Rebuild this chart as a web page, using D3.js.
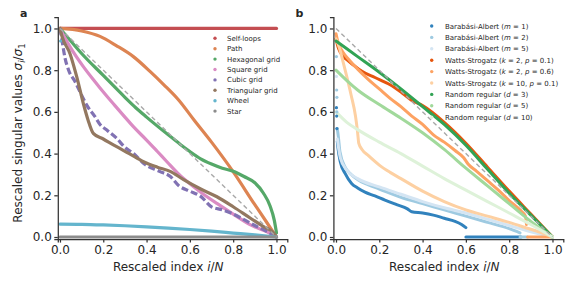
<!DOCTYPE html>
<html>
<head>
<meta charset="utf-8">
<script src="https://cdnjs.cloudflare.com/ajax/libs/d3/7.8.5/d3.min.js"></script>
<style>
  body { margin: 0; background: #fff; }
  svg text { font-family: "DejaVu Sans", sans-serif; fill: #262626; }
</style>
</head>
<body>
<div id="chart"></div>
<script>
// ---- data ----
const xTicks = [0, 0.2, 0.4, 0.6, 0.8, 1.0];
const yTicks = [0, 0.2, 0.4, 0.6, 0.8, 1.0];
const diagonal = [[0, 1], [1, 0]];

// panel a
const namesA = ['Self-loops', 'Path', 'Hexagonal grid', 'Square grid', 'Cubic grid', 'Triangular grid', 'Wheel', 'Star'];
const selfLoops = [[0, 1], [1, 1]];
const path = [[0, 1], [0.1, 0.988], [0.185, 0.962], [0.26, 0.918], [0.339, 0.865], [0.417, 0.793], [0.48, 0.73],
  [0.548, 0.657], [0.62, 0.56], [0.7, 0.455], [0.802, 0.31], [0.9, 0.155], [0.95, 0.078], [1, 0]];
const hexGrid = [[0, 1], [0.05, 0.94], [0.1, 0.88], [0.2, 0.775], [0.3, 0.67], [0.35, 0.62], [0.4, 0.575],
  [0.5, 0.49], [0.556, 0.444], [0.6, 0.41], [0.65, 0.375], [0.7, 0.35], [0.75, 0.33], [0.8, 0.315],
  [0.85, 0.29], [0.9, 0.26], [0.94, 0.21], [0.97, 0.15], [0.99, 0.08], [1, 0.02]];
const squareGrid = [[0, 1], [0.02, 0.96], [0.046, 0.913], [0.108, 0.817], [0.15, 0.76], [0.185, 0.715],
  [0.25, 0.635], [0.3, 0.575], [0.339, 0.529], [0.4, 0.465], [0.45, 0.41], [0.494, 0.361], [0.55, 0.30],
  [0.6, 0.255], [0.65, 0.215], [0.725, 0.161], [0.8, 0.11], [0.88, 0.058], [0.97, 0.018], [1, 0]];
const cubicGrid = [[0, 1], [0.01, 0.94], [0.023, 0.86], [0.04, 0.80], [0.07, 0.745], [0.1, 0.68],
  [0.125, 0.63], [0.16, 0.58], [0.185, 0.54], [0.22, 0.51], [0.26, 0.475], [0.3, 0.43], [0.34, 0.40],
  [0.39, 0.35], [0.46, 0.315], [0.51, 0.29], [0.55, 0.245], [0.6, 0.22], [0.65, 0.195], [0.7, 0.145],
  [0.75, 0.13], [0.8, 0.11], [0.85, 0.083], [0.9, 0.055], [0.95, 0.03], [1, 0]];
const triGrid = [[0, 1], [0.01, 0.96], [0.046, 0.88], [0.077, 0.77], [0.108, 0.64], [0.13, 0.56],
  [0.154, 0.497], [0.2, 0.47], [0.262, 0.433], [0.32, 0.40], [0.386, 0.361], [0.45, 0.335], [0.509, 0.315],
  [0.571, 0.275], [0.65, 0.23], [0.725, 0.193], [0.8, 0.145], [0.88, 0.09], [0.94, 0.05], [0.988, 0.018], [1, 0]];
const wheel = [[0, 0.062], [0.1, 0.061], [0.2, 0.058], [0.3, 0.054], [0.4, 0.049], [0.5, 0.043],
  [0.6, 0.036], [0.7, 0.028], [0.8, 0.019], [0.9, 0.01], [1, 0]];
const star = [[0, 0], [1, 0]];
const seriesA = [selfLoops, path, hexGrid, squareGrid, cubicGrid, triGrid, wheel, star];

// panel b
const namesB = ['Barabási-Albert (m = 1)', 'Barabási-Albert (m = 2)', 'Barabási-Albert (m = 5)',
  'Watts-Strogatz (k = 2, p = 0.1)', 'Watts-Strogatz (k = 2, p = 0.6)', 'Watts-Strogatz (k = 10, p = 0.1)',
  'Random regular (d = 3)', 'Random regular (d = 5)', 'Random regular (d = 10)'];
const ba1 = [[0.006, 0.46], [0.01, 0.42], [0.02, 0.36], [0.042, 0.305], [0.072, 0.257], [0.1, 0.235],
  [0.134, 0.215], [0.18, 0.197], [0.226, 0.177], [0.28, 0.155], [0.33, 0.135], [0.35, 0.121], [0.4, 0.115],
  [0.45, 0.105], [0.5, 0.09], [0.55, 0.075], [0.58, 0.06], [0.6, 0.045], null, [0.6, 0], [0.855, 0]];
const ba2 = [[0.006, 0.52], [0.011, 0.48], [0.018, 0.41], [0.042, 0.335], [0.07, 0.3], [0.103, 0.273],
  [0.15, 0.25], [0.2, 0.23], [0.3, 0.19], [0.4, 0.16], [0.5, 0.13], [0.6, 0.1], [0.7, 0.07], [0.8, 0.04],
  [0.85, 0.02], null, [0.85, 0], [0.885, 0]];
const ba5 = [[0.006, 0.47], [0.01, 0.44], [0.02, 0.38], [0.05, 0.32], [0.1, 0.28], [0.2, 0.24], [0.3, 0.205],
  [0.4, 0.17], [0.5, 0.14], [0.6, 0.115], [0.7, 0.085], [0.8, 0.055], [0.9, 0.025], [1, 0]];
const ws1 = [[0, 0.95], [0.01, 0.91], [0.02, 0.885], [0.05, 0.85], [0.08, 0.825], [0.12, 0.795],
  [0.18, 0.765], [0.25, 0.73], [0.3, 0.695], [0.35, 0.655], [0.4, 0.63], [0.5, 0.55], [0.6, 0.45],
  [0.7, 0.335], [0.8, 0.22], [0.9, 0.11], [1, 0]];
const ws6 = [[0, 0.975], [0.01, 0.93], [0.03, 0.89], [0.06, 0.85], [0.1, 0.805], [0.15, 0.755], [0.2, 0.71],
  [0.25, 0.665], [0.3, 0.625], [0.35, 0.58], [0.4, 0.54], [0.45, 0.49], [0.5, 0.455], [0.55, 0.415],
  [0.59, 0.38], [0.61, 0.35], [0.65, 0.315], [0.7, 0.27], [0.75, 0.225], [0.8, 0.175], [0.85, 0.13],
  [0.875, 0.1], [0.88, 0.06], null, [0.885, 0], [0.99, 0]];
const ws10 = [[0, 0.95], [0.01, 0.925], [0.04, 0.81], [0.07, 0.68], [0.09, 0.58], [0.1, 0.5], [0.105, 0.45],
  [0.12, 0.42], [0.15, 0.39], [0.2, 0.345], [0.25, 0.31], [0.3, 0.28], [0.4, 0.22], [0.5, 0.17], [0.6, 0.13],
  [0.7, 0.1], [0.8, 0.07], [0.87, 0.047], [0.95, 0.02], [1, 0]];
const rr3 = [[0, 0.94], [0.1, 0.865], [0.2, 0.79], [0.3, 0.71], [0.4, 0.625], [0.5, 0.54], [0.6, 0.44],
  [0.7, 0.325], [0.8, 0.21], [0.9, 0.105], [1, 0]];
const rr5 = [[0, 0.8], [0.05, 0.75], [0.1, 0.705], [0.2, 0.635], [0.3, 0.57], [0.4, 0.5], [0.5, 0.42],
  [0.6, 0.33], [0.7, 0.245], [0.8, 0.16], [0.9, 0.075], [1, 0]];
const rr10 = [[0, 0.6], [0.05, 0.55], [0.1, 0.515], [0.2, 0.455], [0.3, 0.4], [0.4, 0.34], [0.5, 0.28],
  [0.6, 0.225], [0.7, 0.17], [0.8, 0.115], [0.9, 0.06], [1, 0]];
const seriesB = [ba1, ba2, ba5, ws1, ws6, ws10, rr3, rr5, rr10];
// a few isolated leading values near i/N = 0
const leadA = [[6, [[0.003, 0.94]]]];
const leadB = [[0, [[0.002, 0.62], [0.003, 0.58], [0.004, 0.52]]],
  [1, [[0.002, 0.865], [0.003, 0.705], [0.004, 0.67], [0.004, 0.6]]], [2, [[0.002, 0.77]]]];

// ---- styles ----
const colorsA = ['#c44e52', '#dd8452', '#55a868', '#da8bc3', '#8172b3', '#937860', '#64b5cd', '#8c8c8c'];
const colorsB = ['#3182bd', '#9ecae1', '#d4e5f3', '#e6550d', '#fda262', '#fdd0a2', '#31a354', '#a1d99b', '#def2d9'];

const W = 581, H = 289;
const svg = d3.select('#chart').append('svg').attr('width', W).attr('height', H);

function drawPanel(o) {
  const x = d3.scaleLinear().domain([o.x0, 1.05]).range(o.xr);
  const y = d3.scaleLinear().domain([-0.01, 1.055]).range([239.1, 17]);
  const g = svg.append('g');

  const line = d3.line().defined(d => d != null).x(d => x(d[0])).y(d => y(d[1])).curve(d3.curveMonotoneX);

  o.series.forEach((s, i) => {
    const dash = o.dashed && o.dashed[i] ? o.dashed[i] : null;
    g.append('path').datum(s)
      .attr('d', line)
      .attr('fill', 'none')
      .attr('stroke', o.colors[i])
      .attr('stroke-width', o.lw)
      .attr('stroke-linecap', dash ? 'butt' : 'round')
      .attr('stroke-dasharray', dash);
  });
  o.lead.forEach(([i, pts]) => {
    g.selectAll(null).data(pts).enter().append('circle')
      .attr('cx', d => x(d[0])).attr('cy', d => y(d[1])).attr('r', 1.6)
      .attr('fill', o.colors[i]);
  });

  g.append('path').datum(diagonal)
    .attr('d', d3.line().x(d => x(d[0])).y(d => y(d[1])))
    .attr('fill', 'none').attr('stroke', '#a8a8a8').attr('stroke-width', 1.4)
    .attr('stroke-dasharray', '4.5,3');

  const ax = g.append('g').attr('transform', 'translate(0,239.1)')
    .call(d3.axisBottom(x).tickValues(xTicks).tickFormat(d3.format('.1f')).tickSizeOuter(0).tickSize(3.5).tickPadding(3));
  const ay = g.append('g').attr('transform', `translate(${x(o.x0)},0)`)
    .call(d3.axisLeft(y).tickValues(yTicks).tickFormat(d3.format('.1f')).tickSizeOuter(0).tickSize(3.5).tickPadding(2.5));
  [ax, ay].forEach(a => {
    a.select('.domain').attr('stroke', '#333').attr('stroke-width', 1.25);
    a.selectAll('.tick line').attr('stroke', '#333').attr('stroke-width', 1.25);
    a.selectAll('.tick text').attr('font-size', 12).attr('fill', '#262626')
      .style('font-family', '"DejaVu Sans", sans-serif');
  });

  // x label
  const xl = g.append('text').attr('x', (x(0) + x(1)) / 2).attr('y', 271)
    .attr('text-anchor', 'middle').attr('font-size', 12);
  xl.append('tspan').text('Rescaled index ');
  xl.append('tspan').attr('font-style', 'italic').text('i');
  xl.append('tspan').text('/');
  xl.append('tspan').attr('font-style', 'italic').text('N');

  // panel letter
  g.append('text').attr('x', o.letterX).attr('y', 17).attr('font-size', 11)
    .attr('font-weight', 'bold').text(o.letter);

  // legend
  const lg = g.append('g');
  o.names.forEach((n, i) => {
    const ry = o.leg.y0 + i * o.leg.dy;
    lg.append('circle').attr('cx', o.leg.mx).attr('cy', ry).attr('r', 1.7).attr('fill', o.colors[i]);
    const t = lg.append('text').attr('x', o.leg.tx).attr('y', ry + 2.5).attr('font-size', 7);
    n.split(/([a-z])(?= =)/).forEach((part, j) => {
      t.append('tspan').attr('font-style', j % 2 ? 'italic' : null).text(part);
    });
  });
  return { x, y };
}

drawPanel({
  x0: -0.01, xr: [57.8, 287.3], series: seriesA, colors: colorsA, names: namesA, lw: 3.2,
  dashed: [null, null, null, null, '7,3', null, null, null],
  lead: leadA, letter: 'a', letterX: 20,
  leg: { mx: 215, tx: 227, y0: 38.3, dy: 10.4 }
});
drawPanel({
  x0: -0.012, xr: [333.4, 563.3], series: seriesB, colors: colorsB, names: namesB, lw: 3,
  lead: leadB, letter: 'b', letterX: 295.5,
  leg: { mx: 431.7, tx: 445, y0: 26, dy: 11.4 }
});

// y label (panel a only)
const yl = svg.append('text').attr('transform', 'translate(22,133) rotate(-90)')
  .attr('text-anchor', 'middle').attr('font-size', 12);
yl.append('tspan').text('Rescaled singular values ');
yl.append('tspan').attr('font-style', 'italic').text('σ');
yl.append('tspan').attr('font-style', 'italic').attr('font-size', 8.5).attr('dy', 2.5).text('i');
yl.append('tspan').attr('dy', -2.5).text('/');
yl.append('tspan').attr('font-style', 'italic').text('σ');
yl.append('tspan').attr('font-size', 8.5).attr('dy', 2.5).text('1');
</script>
</body>
</html>
